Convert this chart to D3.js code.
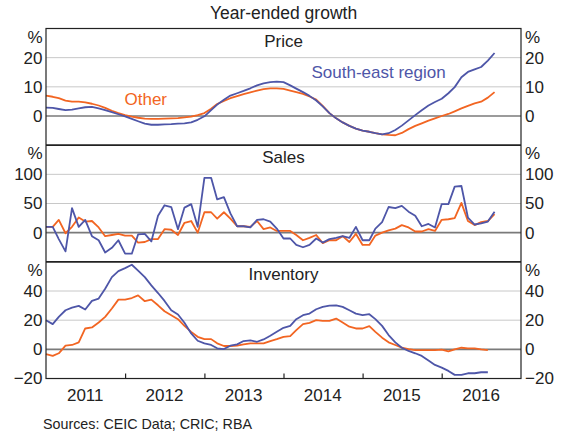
<!DOCTYPE html>
<html>
<head>
<meta charset="utf-8">
<script src="https://cdn.jsdelivr.net/npm/d3@7"></script>
<style>
  body { margin: 0; background: #fff; }
  text { font-family: Arial, "Liberation Sans", sans-serif; fill: #222; }
</style>
</head>
<body>
<div id="chart"></div>
<script>
// monthly observations, Jan 2011 onwards
const months = d3.timeMonth.range(new Date(2011, 0, 1), new Date(2016, 9, 1));
const yearLabels = ["2011", "2012", "2013", "2014", "2015", "2016"];

const priceSE = [2.9, 2.8, 2.4, 2.0, 2.2, 2.6, 3.0, 3.1, 2.6, 2.0, 1.3, 0.6, -0.1, -1.0, -1.8, -2.6, -3.0, -3.0, -2.9, -2.8,
  -2.6, -2.5, -2.2, -1.3, -0.1, 2.0, 3.9, 5.6, 7.0, 7.8, 8.6, 9.5, 10.5, 11.2, 11.6, 11.8, 11.6, 10.5, 9.4, 8.2,
  6.9, 5.3, 3.3, 1.0, -0.8, -2.2, -3.4, -4.3, -5.0, -5.4, -5.9, -6.3, -5.9, -4.8, -3.3, -1.5, 0.3, 2.0, 3.6, 4.8,
  5.9, 7.8, 9.9, 13.3, 15.1, 16.0, 16.8, 19.0, 21.6];
const priceOther = [7.0, 6.6, 6.1, 5.3, 4.9, 4.9, 4.7, 4.2, 3.6, 2.8, 1.8, 1.0, 0.3, -0.2, -0.6, -0.9, -1.0, -1.0, -0.9, -0.8,
  -0.7, -0.5, -0.2, 0.3, 1.0, 2.5, 4.1, 5.2, 6.1, 6.8, 7.5, 8.1, 8.7, 9.2, 9.5, 9.5, 9.3, 8.7, 8.2, 7.6,
  6.7, 5.6, 3.5, 1.0, -0.8, -2.2, -3.4, -4.3, -5.0, -5.4, -5.9, -6.3, -6.5, -6.6, -5.8, -4.5, -3.4, -2.5, -1.6, -0.8,
  0.0, 0.7, 1.6, 2.6, 3.5, 4.3, 4.9, 6.3, 8.2];

const salesSE = [10, 10, -11, -32, 42, 10, 22, -6, -13, -34, -26, -13, -36, -36, -3, -2, -15, 29, 47, 44,
  6, 43, 49, 10, 94, 94, 57, 61, 33, 11, 11, 9, 22, 23, 19, 7, -10, -10, -21, -25,
  -21, -10, -17, -11, -9, -6, -9, 10, -13, -13, 7, 18, 44, 42, 46, 36, 29, 11, 15, 9,
  49, 49, 79, 80, 26, 14, 16, 19, 36];
const salesOther = [10, 10, 22, -1, 10, 26, 19, 20, 9, -6, -4, -2, -5, -5, -17, -16, -11, -11, 6, 5,
  -4, 17, 20, 0, 35, 35, 24, 35, 24, 11, 11, 10, 20, 6, 9, 3, 3, 3, -4, -13,
  -9, -4, -18, -13, -13, -6, -16, -2, -21, -21, -5, 0, 4, 7, 13, 9, 2, 2, 6, 3,
  22, 23, 25, 51, 20, 13, 18, 20, 32];

const invSE = [20, 17.3, 22.3, 26.8, 28.6, 29.8, 27.3, 33.2, 34.8, 41.6, 49.5, 53.6, 55.7, 58, 54, 49.5, 43.9, 38.6, 33.2, 26.8,
  23.9, 18.2, 10.9, 5.9, 4.1, 3, 0.7, 0.2, 2.5, 3.4, 5.7, 6.1, 5.2, 6.8, 9.3, 12, 14.8, 16.1, 20.7, 23.4,
  24.5, 27.5, 29.1, 30, 30.2, 29.1, 26.8, 24.5, 23.4, 24.1, 20.7, 16.1, 9.8, 4.8, 1.1, -1.1, -2.7, -4.5, -7.7, -10.7,
  -12.5, -14.8, -17.5, -17.5, -16.4, -16.4, -15.7, -15.7];
const invOther = [-3.2, -4.5, -2.7, 2.5, 3, 4.8, 14.3, 15, 18.4, 22.3, 28, 34.1, 34.1, 35.2, 37, 33, 34.1, 30.2, 26.1, 23.4,
  20.7, 16.1, 12, 8.6, 7, 7, 4.1, 2.3, 2.3, 2.5, 3.4, 4.1, 4.1, 4.1, 5.7, 7, 8.6, 9.1, 13.2, 17.3,
  18.2, 20, 19.5, 19.5, 21.1, 18.4, 15.5, 14.3, 14.3, 15.9, 12, 8, 4.8, 3, 1.1, 0.2, -0.5, -0.5, -0.5, -0.5,
  -0.2, -1.4, 0, 1.1, 0.7, 0.7, 0, -0.5];

const blue = "#4e56a8";
const orange = "#f26522";

function drawChart() {
    const width = 563, height = 435;
    const left = 46, right = 521;
    const top = 28.5, panelH = 116.67;

    const svg = d3.select("#chart")
        .append("svg")
        .attr("width", width)
        .attr("height", height);

    const x = d3.scaleTime()
        .domain([new Date(2011, 0, 1), new Date(2017, 0, 1)])
        .range([left, right]);

    const panels = [
        {title: "Price", domain: [-10, 30], ticks: [0, 10, 20], se: priceSE, other: priceOther},
        {title: "Sales", domain: [-50, 150], ticks: [0, 50, 100], se: salesSE, other: salesOther},
        {title: "Inventory", domain: [-20, 60], ticks: [-20, 0, 20, 40], se: invSE, other: invOther}
    ];

    panels.forEach(function(p, i) {
        const y0 = top + i * panelH;
        const y = d3.scaleLinear()
            .domain(p.domain)
            .range([y0 + panelH, y0]);

        // gridlines
        svg.append("g")
            .selectAll("line")
            .data(p.ticks.filter(d => d > p.domain[0]))
            .join("line")
            .attr("x1", left).attr("x2", right)
            .attr("y1", d => y(d)).attr("y2", d => y(d))
            .attr("stroke", d => d === 0 ? "#7a7a7a" : "#c8c8c8")
            .attr("stroke-width", d => d === 0 ? 1.6 : 1);

        // tick labels on both sides
        const axisL = svg.append("g")
            .attr("transform", `translate(${left},0)`)
            .call(d3.axisLeft(y).tickValues(p.ticks).tickSize(0).tickPadding(3.5));
        const axisR = svg.append("g")
            .attr("transform", `translate(${right},0)`)
            .call(d3.axisRight(y).tickValues(p.ticks).tickSize(0).tickPadding(4));
        [axisL, axisR].forEach(function(a) {
            a.select(".domain").remove();
            a.selectAll("text").style("font-size", "17px").attr("fill", "#222")
                .style("font-family", "Arial, 'Liberation Sans', sans-serif");
        });

        svg.append("text")
            .attr("x", left - 3.5).attr("y", y0 + 14)
            .attr("text-anchor", "end")
            .style("font-size", "17px")
            .text("%");
        svg.append("text")
            .attr("x", right + 4).attr("y", y0 + 14)
            .style("font-size", "17px")
            .text("%");

        svg.append("text")
            .attr("x", (left + right) / 2).attr("y", y0 + 18)
            .attr("text-anchor", "middle")
            .style("font-size", "17px")
            .text(p.title);

        // the two lines
        [[p.other, orange], [p.se, blue]].forEach(function(s) {
            svg.append("path")
                .datum(s[0])
                .attr("fill", "none")
                .attr("stroke", s[1])
                .attr("stroke-width", 1.8)
                .attr("stroke-linejoin", "round")
                .attr("d", d3.line()
                    .x((d, j) => x(months[j]))
                    .y(d => y(d)));
        });

        // divider / panel border
        svg.append("line")
            .attr("x1", left).attr("x2", right)
            .attr("y1", y0).attr("y2", y0)
            .attr("stroke", "#222")
            .attr("stroke-width", i === 0 ? 1.2 : 1.6);
    });

    const bottom = top + 3 * panelH;

    // outer frame
    svg.append("rect")
        .attr("x", left).attr("y", top)
        .attr("width", right - left).attr("height", bottom - top)
        .attr("fill", "none")
        .attr("stroke", "#222")
        .attr("stroke-width", 1.2);

    // year ticks
    const xAxis = svg.append("g")
        .attr("transform", `translate(0,${bottom})`)
        .call(d3.axisBottom(x)
            .tickValues(d3.range(2012, 2017).map(yr => new Date(yr, 0, 1)))
            .tickSize(-5)
            .tickFormat(""));
    xAxis.select(".domain").remove();
    xAxis.selectAll("line").attr("stroke", "#222").attr("stroke-width", 1.2);

    svg.append("g")
        .selectAll("text")
        .data(yearLabels)
        .join("text")
        .attr("x", d => x(new Date(+d, 6, 1)))
        .attr("y", bottom + 22)
        .attr("text-anchor", "middle")
        .style("font-size", "17px")
        .text(d => d);

    // series labels
    svg.append("text")
        .attr("x", 311.5).attr("y", 78)
        .style("fill", blue)
        .style("font-size", "17px")
        .text("South-east region");
    svg.append("text")
        .attr("x", 124.5).attr("y", 105)
        .style("fill", orange)
        .style("font-size", "17px")
        .text("Other");

    // title and source
    svg.append("text")
        .attr("x", (left + right) / 2).attr("y", 19)
        .attr("text-anchor", "middle")
        .style("font-size", "17.5px")
        .text("Year-ended growth");

    svg.append("text")
        .attr("x", 43).attr("y", 429)
        .style("font-size", "14.3px")
        .text("Sources:  CEIC Data; CRIC; RBA");
}

drawChart();
</script>
</body>
</html>
